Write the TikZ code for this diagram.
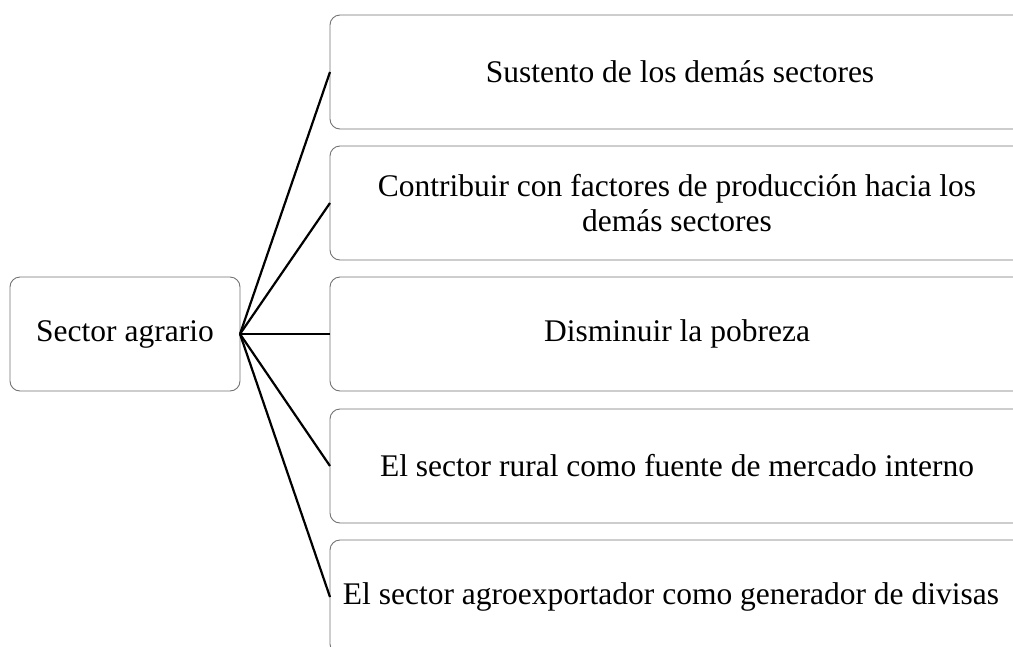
\documentclass[tikz,border=0pt]{standalone}
\usepackage{fontspec}
\setmainfont{Liberation Serif}
\begin{document}
\begin{tikzpicture}[x=1pt,y=-1pt,
  box/.style={draw=black!55, line width=0.9pt, rounded corners=10pt, fill=white, inner sep=0pt},
  lbl/.style={font=\fontsize{31.5}{35}\selectfont, align=center, inner sep=0pt},
  link/.style={line width=2.2pt, black}]
\useasboundingbox (0,0) rectangle (1013,646);
\clip (0,0) rectangle (1013,646);
% left box
\draw[box] (10,277) rectangle (240,391);
\node[lbl] (src) at (125,334) {Sector agrario};
\coordinate (s) at (240,334);
% right boxes
\draw[box] (330,15) rectangle (1040,129);
\draw[box] (330,146) rectangle (1040,260);
\draw[box] (330,277) rectangle (1040,391);
\draw[box] (330,409) rectangle (1040,523);
\draw[box] (330,540) rectangle (1040,654);
\coordinate (t1) at (330,72);
\coordinate (t2) at (330,203);
\coordinate (t3) at (330,334);
\coordinate (t4) at (330,466);
\coordinate (t5) at (330,597);
\node[lbl] (n1) at (680,72) {Sustento de los demás sectores};
\node[lbl] (n2) at (677,203) {Contribuir con factores de producción hacia los\\demás sectores};
\node[lbl] (n3) at (677,334) {Disminuir la pobreza};
\node[lbl] (n4) at (677,466) {El sector rural como fuente de mercado interno};
\node[lbl] (n5) at (671,597) {El sector agroexportador como generador de divisas};
\foreach \i in {1,...,5} \draw[link] (s) -- (t\i);
\end{tikzpicture}
\end{document}
